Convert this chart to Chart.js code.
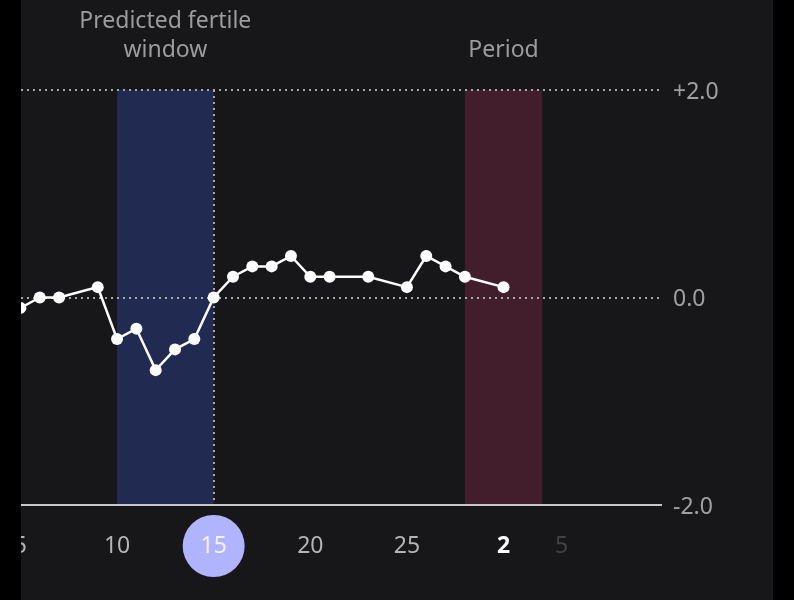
<!DOCTYPE html>
<html>
<head>
<meta charset="utf-8">
<script src="https://cdn.jsdelivr.net/npm/chart.js@4"></script>
<style>
  html, body { margin: 0; height: 100%; background: #000; overflow: hidden; }
  #wrap { position: absolute; left: 21px; top: 0; width: 752px; height: 600px; background: #171719; }
</style>
</head>
<body>
<div id="wrap"><canvas id="tempChart" width="752" height="600"></canvas></div>
<script>
// days run on past 28 so the month change stays on one axis (29 = 1, 30 = 2, 33 = 5)
const days = [5, 6, 7, 9, 10, 11, 12, 13, 14, 15, 16, 17, 18, 19, 20, 21, 23, 25, 26, 27, 28, 30];
const values = [-0.1, 0, 0, 0.1, -0.4, -0.3, -0.7, -0.5, -0.4, 0, 0.2, 0.3, 0.3, 0.4, 0.2, 0.2, 0.2, 0.1, 0.4, 0.3, 0.2, 0.1];

const xTicks = [5, 10, 15, 20, 25, 30, 33];
const xTickLabels = ['5', '10', '15', '20', '25', '2', '5'];
const yTicks = [-2, 0, 2];
const yTickLabels = ['-2.0', '0.0', '+2.0'];

const fertileWindow = [10, 15];
const fertileLabel = ['Predicted fertile', 'window'];
const periodWindow = [28, 32];
const periodLabel = ['Period'];
const today = 15;

const FONT = '"Noto Sans", sans-serif';

// bands, the circle behind today and the captions above the plot
const backdrop = {
    id: 'backdrop',
    beforeDraw(chart) {
        const { ctx, scales: { x, y } } = chart;
        const top = y.getPixelForValue(2);
        const bottom = y.getPixelForValue(-2);

        function band(range, color) {
            const left = x.getPixelForValue(range[0]);
            ctx.fillStyle = color;
            ctx.fillRect(left, top, x.getPixelForValue(range[1]) - left, bottom - top);
        }
        function caption(range, lines) {
            const mid = x.getPixelForValue((range[0] + range[1]) / 2);
            const start = 50 - (lines.length - 1) * 29;
            lines.forEach((line, i) => ctx.fillText(line, mid, start + i * 29));
        }

        ctx.save();
        band(fertileWindow, '#212b52');
        band(periodWindow, '#421d2b');

        ctx.fillStyle = '#b0b4ff';
        ctx.beginPath();
        ctx.arc(x.getPixelForValue(today), 546, 31, 0, Math.PI * 2);
        ctx.fill();

        ctx.fillStyle = '#9c9c9c';
        ctx.font = '23px ' + FONT;
        ctx.textAlign = 'center';
        ctx.textBaseline = 'middle';
        caption(fertileWindow, fertileLabel);
        caption(periodWindow, periodLabel);
        ctx.restore();

        // y labels sit a little lower than the font's middle line
        y.getLabelItems(chart.chartArea).forEach(item => { item.textOffset += 2; });
    }
};

function xTickColor(value) {
    if (value === today) return '#f2f2ff';
    if (value === 30) return '#ffffff';
    if (value === 33) return '#414141';
    return '#b4b4b4';
}

new Chart(document.getElementById('tempChart'), {
    type: 'line',
    data: {
        datasets: [{
            data: days.map((d, i) => ({ x: d, y: values[i] })),
            borderColor: '#ffffff',
            borderWidth: 2.5,
            backgroundColor: '#ffffff',
            pointRadius: 6,
            pointBorderWidth: 0,
            tension: 0
        }]
    },
    options: {
        responsive: false,
        devicePixelRatio: 1,
        animation: false,
        layout: { autoPadding: false, padding: { top: 90, left: 0, right: 0, bottom: 0 } },
        plugins: { legend: { display: false }, tooltip: { enabled: false } },
        scales: {
            x: {
                type: 'linear',
                min: 5.03,
                max: 38.2,
                afterBuildTicks(axis) {
                    axis.ticks = xTicks.map(v => ({ value: v }));
                },
                afterFit(axis) {
                    axis.height = 95;
                    // the first label is cut by the screen edge, so no room is kept for it
                    axis.paddingLeft = 0;
                    axis.paddingRight = 0;
                },
                border: { display: false, dash: ctx => (ctx.tick && ctx.tick.value === today ? [2, 4] : []) },
                grid: {
                    drawTicks: false,
                    lineWidth: 2,
                    color: ctx => (ctx.tick && ctx.tick.value === today ? '#a8a8b4' : 'transparent')
                },
                ticks: {
                    autoSkip: false,
                    maxRotation: 0,
                    padding: 28,
                    font: ctx => ({ family: FONT, size: 23, weight: ctx.tick && ctx.tick.value === 30 ? '700' : '400' }),
                    color: ctx => xTickColor(ctx.tick && ctx.tick.value),
                    callback: value => xTickLabels[xTicks.indexOf(value)]
                }
            },
            y: {
                position: 'right',
                min: -2,
                max: 2,
                afterBuildTicks(axis) {
                    axis.ticks = yTicks.map(v => ({ value: v }));
                },
                afterFit(axis) { axis.width = 111; },
                border: { display: false, dash: ctx => (ctx.tick && ctx.tick.value === -2 ? [] : [2, 4]) },
                grid: {
                    drawTicks: false,
                    lineWidth: 2,
                    color: ctx => (ctx.tick && ctx.tick.value === -2 ? '#c8c8c8' : '#a8a8a8')
                },
                ticks: {
                    padding: 11,
                    font: { family: FONT, size: 23 },
                    color: '#a0a0a0',
                    callback: value => yTickLabels[yTicks.indexOf(value)]
                }
            }
        }
    },
    plugins: [backdrop]
});
</script>
</body>
</html>
